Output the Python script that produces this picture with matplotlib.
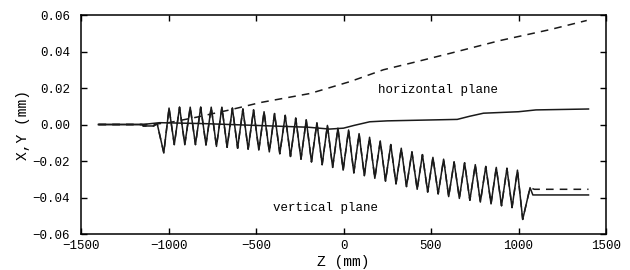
import numpy as np
import matplotlib.pyplot as plt

# vertical plane: extrema of the oscillating orbit (z in mm, y in mm)
trough_z = [-1027, -967, -907, -846, -786, -726, -665, -605, -545, -484, -424, -364,
            -303, -243, -183, -122, -62, -2, 59, 119, 179, 240, 300, 360, 421, 481,
            541, 601, 662, 722, 782, 843, 903, 963, 1024]
trough_y = [-0.0155, -0.011, -0.011, -0.011, -0.0112, -0.012, -0.0125, -0.013, -0.0135,
            -0.014, -0.015, -0.016, -0.0175, -0.019, -0.0205, -0.022, -0.0235, -0.025,
            -0.0265, -0.028, -0.0295, -0.031, -0.0325, -0.034, -0.0355, -0.037, -0.038,
            -0.0395, -0.0405, -0.0415, -0.0425, -0.0435, -0.0445, -0.0455, -0.052]
peak_z = [-997, -937, -876, -816, -756, -695, -635, -575, -514, -454, -394, -333,
          -273, -213, -152, -92, -32, 29, 89, 149, 210, 270, 330, 391, 451, 511,
          572, 632, 692, 753, 813, 873, 934, 994]
peak_y = [0.009, 0.0095, 0.0095, 0.0095, 0.0095, 0.0095, 0.009, 0.0085, 0.008, 0.007,
          0.006, 0.005, 0.0035, 0.0025, 0.001, -0.0005, -0.002, -0.003, -0.005, -0.007,
          -0.009, -0.011, -0.013, -0.015, -0.0165, -0.018, -0.019, -0.0205, -0.021,
          -0.022, -0.023, -0.0235, -0.024, -0.025]

lead_z = [-1400, -1150, -1145, -1085, -1065]
lead_y = [0.0, 0.0, -0.0008, -0.0008, 0.0005]
tail_z_solid = [1066, 1082, 1400]
tail_y_solid = [-0.0346, -0.0386, -0.0386]
tail_z_dash = [1066, 1090, 1400]
tail_y_dash = [-0.0346, -0.0355, -0.0355]

# horizontal plane
hd_z = [-1400, -1100, -1000, -840, -650, -477, -191, 37, 228, 400, 609, 894, 1180, 1390]
hd_y = [0.0, 0.0, 0.001, 0.004, 0.008, 0.012, 0.017, 0.0235, 0.030, 0.034, 0.039,
        0.046, 0.052, 0.057]
hs_z = [-1400, -1150, -1100, -1050, -800, -500, -200, -80, 0, 60, 150, 250, 500, 650,
        720, 800, 1000, 1100, 1400]
hs_y = [0.0, 0.0, 0.0005, 0.001, 0.0005, -0.0005, -0.0015, -0.0025, -0.002, -0.0005,
        0.0015, 0.002, 0.0025, 0.0028, 0.0045, 0.0062, 0.007, 0.008, 0.0085]

# interleave troughs and peaks
osc_z = np.empty(len(trough_z) + len(peak_z))
osc_y = np.empty_like(osc_z)
osc_z[0::2], osc_z[1::2] = trough_z, peak_z
osc_y[0::2], osc_y[1::2] = trough_y, peak_y

plt.rcParams['font.family'] = 'Liberation Mono'
plt.rcParams['font.size'] = 9

fig = plt.figure(figsize=(6.3, 2.7), dpi=100)
ax = fig.add_axes([0.1286, 0.1333, 0.8333, 0.8111])

lc = '#1a1a1a'
ax.plot(lead_z + list(osc_z) + tail_z_solid, lead_y + list(osc_y) + tail_y_solid,
        color=lc, lw=1.1)
ax.plot(lead_z + list(osc_z) + tail_z_dash, lead_y + list(osc_y) + tail_y_dash,
        color=lc, lw=1.1, dashes=(5, 4))
ax.plot(hs_z, hs_y, color=lc, lw=1.1)
ax.plot(hd_z, hd_y, color=lc, lw=1.1, dashes=(5, 4))

ax.text(197, 0.019, 'horizontal plane', va='center', ha='left')
ax.text(-403, -0.0458, 'vertical plane', va='center', ha='left')

ax.set_xlim(-1500, 1500)
ax.set_ylim(-0.06, 0.06)
ax.set_xticks([-1500, -1000, -500, 0, 500, 1000, 1500])
ax.set_yticks([-0.06, -0.04, -0.02, 0.0, 0.02, 0.04, 0.06])
ax.set_yticklabels(['\u22120.06', '\u22120.04', '\u22120.02', '0.00', '0.02', '0.04', '0.06'])
ax.tick_params(direction='in', top=True, right=True, length=4, width=1.0)
ax.tick_params(axis='y', pad=8)
ax.tick_params(axis='x', pad=4)
for s in ax.spines.values():
    s.set_linewidth(1.1)

ax.set_xlabel('Z (mm)', labelpad=2.5, fontsize=10.5)
ax.set_ylabel('X,Y (mm)', labelpad=1.5, fontsize=10.5)

fig.savefig('out.png', dpi=100)
